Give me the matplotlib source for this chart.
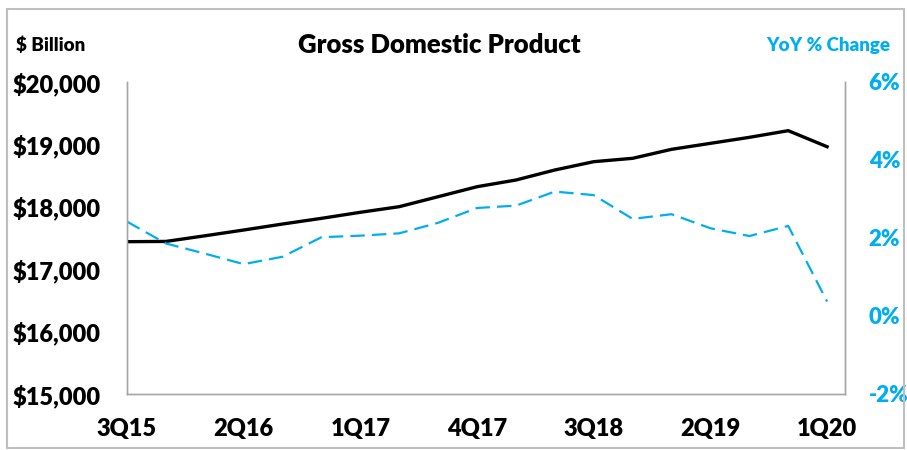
import matplotlib
matplotlib.use("Agg")
import matplotlib.pyplot as plt
from matplotlib.ticker import FuncFormatter, MultipleLocator
from matplotlib.patches import Rectangle

plt.rcParams['font.family'] = ['Lato', 'DejaVu Sans']
W = 'heavy'

quarters = ["3Q15", "4Q15", "1Q16", "2Q16", "3Q16", "4Q16", "1Q17", "2Q17", "3Q17",
            "4Q17", "1Q18", "2Q18", "3Q18", "4Q18", "1Q19", "2Q19", "3Q19", "4Q19", "1Q20"]
gdp = [17441, 17445, 17535, 17628, 17724, 17815, 17912, 18002, 18162, 18322,
       18429, 18590, 18723, 18777, 18921, 19017, 19113, 19220, 18963]
yoy = [2.42, 1.86, 1.60, 1.33, 1.52, 2.02, 2.06, 2.12, 2.39, 2.77,
       2.83, 3.19, 3.10, 2.49, 2.61, 2.25, 2.05, 2.31, 0.37]
tick_labels = ["3Q15", "2Q16", "1Q17", "4Q17", "3Q18", "2Q19", "1Q20"]

BLUE = '#00AEEF'
GRAY = '#a6a6a6'

fig = plt.figure(figsize=(9.07, 4.5), dpi=100)
ax = fig.add_axes([127/907, 1-394/450, (845-127)/907, (394-82)/450])
ax2 = ax.twinx()

x = list(range(len(quarters)))
ax.plot(x, gdp, color='black', lw=2.4, solid_joinstyle='round', zorder=3)
ax2.plot(x, yoy, color=BLUE, lw=1.6, linestyle=(0, (6.5, 3.2)), zorder=2)

ax.set_xlim(0, 18.46)
ax.set_ylim(15000, 20000)
ax.yaxis.set_major_locator(MultipleLocator(1000))
ax.yaxis.set_major_formatter(FuncFormatter(lambda v, p: f"${v:,.0f}"))
ax2.set_ylim(-2, 6)
ax2.yaxis.set_major_locator(MultipleLocator(2))
ax2.yaxis.set_major_formatter(FuncFormatter(lambda v, p: f"{v:.0f}%"))

tick_pos = [quarters.index(q) for q in tick_labels]
ax.set_xticks(tick_pos)
ax.set_xticklabels(tick_labels)

ax.tick_params(axis='y', length=0, pad=19, labelsize=17, labelcolor='black')
ax.tick_params(axis='x', length=0, pad=17, labelsize=17, labelcolor='black')
ax2.tick_params(axis='y', length=0, pad=17, labelsize=16, labelcolor=BLUE)
for lab in ax.get_xticklabels() + ax.get_yticklabels() + ax2.get_yticklabels():
    lab.set_fontweight(W)

for a in (ax, ax2):
    a.spines['top'].set_visible(False)
    for s in ('left', 'right', 'bottom'):
        a.spines[s].set_color(GRAY)
        a.spines[s].set_linewidth(1.0)

fig.text(439/907, 1-45/450, "Gross Domestic Product", ha='center', va='center',
         fontsize=18.5, fontweight=W, color='black')
fig.text(16/907, 1-45/450, "$ Billion", ha='left', va='center',
         fontsize=13.5, fontweight=W, color='black')
fig.text(890/907, 1-45/450, "YoY % Change", ha='right', va='center',
         fontsize=13.5, fontweight=W, color=BLUE)

fig.patches.append(Rectangle((7/907, 2/450), 897/907, 439/450, transform=fig.transFigure,
                             fill=False, edgecolor='#bfbfbf', lw=1.5, zorder=0))

fig.savefig("out.png", dpi=100)
